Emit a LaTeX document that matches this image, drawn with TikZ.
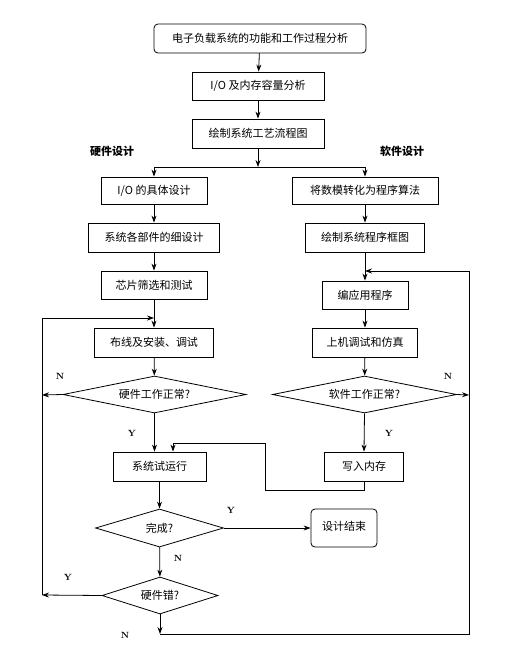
\documentclass[tikz,border=0pt]{standalone}
\usepackage{fontspec}
\newfontfamily\cjk{Noto Sans CJK SC}
\usetikzlibrary{shapes.geometric,arrows.meta}
\begin{document}
\begin{tikzpicture}[x=1pt,y=-1pt,
  line width=0.8pt,
  >={Stealth[length=7pt,width=5pt]},
  box/.style={draw, rectangle, inner sep=0pt, font=\cjk\fontsize{11}{13}\selectfont},
  rbox/.style={box, rounded corners=4pt},
  dia/.style={draw, diamond, aspect=5, inner sep=0pt, font=\cjk\fontsize{11}{13}\selectfont},
  lab/.style={font=\cjk\fontsize{11}{13}\selectfont\bfseries},
  yn/.style={font=\fontsize{9}{10}\selectfont\bfseries}]
\useasboundingbox (0,0) rectangle (528,654);

\node[rbox, minimum width=212pt, minimum height=29pt] (top) at (260,38.5) {电子负载系统的功能和工作过程分析};
\node[box, minimum width=132pt, minimum height=28pt] (io) at (258,86) {I/O 及内存容量分析};
\node[box, minimum width=132pt, minimum height=29pt] (flow) at (258,133.5) {绘制系统工艺流程图};
\node[lab] (hwlab) at (112,151) {硬件设计};
\node[lab] (swlab) at (402,151) {软件设计};

\node[box, minimum width=106pt, minimum height=27pt] (iod) at (154,190.5) {I/O 的具体设计};
\node[box, minimum width=146pt, minimum height=27pt] (alg) at (365,190.5) {将数模转化为程序算法};
\node[box, minimum width=131pt, minimum height=29pt] (parts) at (154,237.5) {系统各部件的细设计};
\node[box, minimum width=119pt, minimum height=29pt] (swchart) at (365,237.5) {绘制系统程序框图};
\node[box, minimum width=106pt, minimum height=28pt] (chip) at (154,285) {芯片筛选和测试};
\node[box, minimum width=86pt, minimum height=28pt] (prog) at (365,295) {编应用程序};
\node[box, minimum width=119pt, minimum height=29pt] (wire) at (154,342.5) {布线及安装、调试};
\node[box, minimum width=105pt, minimum height=29pt] (sim) at (365,342.5) {上机调试和仿真};
\node[dia, minimum width=183pt, minimum height=37pt] (hwok) at (154.5,394.5) {硬件工作正常?};
\node[dia, minimum width=184pt, minimum height=37pt] (swok) at (364.5,394.5) {软件工作正常?};
\node[box, minimum width=93pt, minimum height=29pt] (run) at (159.5,466.5) {系统试运行};
\node[box, minimum width=79pt, minimum height=29pt] (write) at (364,466.5) {写入内存};
\node[dia, minimum width=128pt, minimum height=38pt] (done) at (159.5,528) {完成?};
\node[rbox, minimum width=66pt, minimum height=38pt] (end) at (344,528) {\raisebox{5pt}{设计结束}};
\node[dia, minimum width=116pt, minimum height=37pt] (hwerr) at (160,595.5) {硬件错?};

\coordinate (split) at (258,167);
\coordinate (lt) at (42,318);
\coordinate (ltin) at (154,318);
\coordinate (lm) at (42,395);
\coordinate (lb) at (42,595);
\coordinate (rt) at (469,271);
\coordinate (rtin) at (365,271);
\coordinate (rm) at (469,395);
\coordinate (bl) at (160,634);
\coordinate (br) at (469,634);
\coordinate (w1) at (364,490);
\coordinate (w2) at (265,490);
\coordinate (w3) at (265,443);
\coordinate (w4) at (173,443);

\draw[->] (top) -- (io);
\draw[->] (io) -- (flow);
\draw[->] (flow) -- (split);
\draw (iod.north |- split) -- (alg.north |- split);
\draw[->] (iod.north |- split) -- (iod.north);
\draw[->] (alg.north |- split) -- (alg.north);
\draw[->] (iod) -- (parts);
\draw[->] (alg) -- (swchart);
\draw[->] (parts) -- (chip);
\draw[->] (swchart) -- (prog);
\draw[->] (chip) -- (wire);
\draw[->] (prog) -- (sim);
\draw[->] (wire) -- (hwok);
\draw[->] (sim) -- (swok);
\draw[->] (hwok.south) -- (hwok.south |- run.north);
\draw[->] (swok.south) -- (write.north);
\draw[->] (run) -- (done);
\draw[->] (done) -- (end);
\draw[->] (done) -- (hwerr);
\draw[->] (hwok.west) -- (lm);
\draw[->] (hwerr.west) -- (lb);
\draw[->] (lb) -- (lt) -- (ltin);
\draw[->] (swok.east) -- (rm);
\draw[->] (hwerr.south) -- (bl);
\draw[->] (bl) -- (br) -- (rt) -- (rtin);
\draw[->] (write.south) -- (w1) -- (w2) -- (w3) -- (w4) -- (w4 |- run.north);

\node[yn] at (60,376) {N};
\node[yn] at (448,376) {N};
\node[yn] at (132,433) {Y};
\node[yn] at (389,433) {Y};
\node[yn] at (231,510) {Y};
\node[yn] at (178,558) {N};
\node[yn] at (68,577) {Y};
\node[yn] at (125,635) {N};
\end{tikzpicture}
\end{document}
